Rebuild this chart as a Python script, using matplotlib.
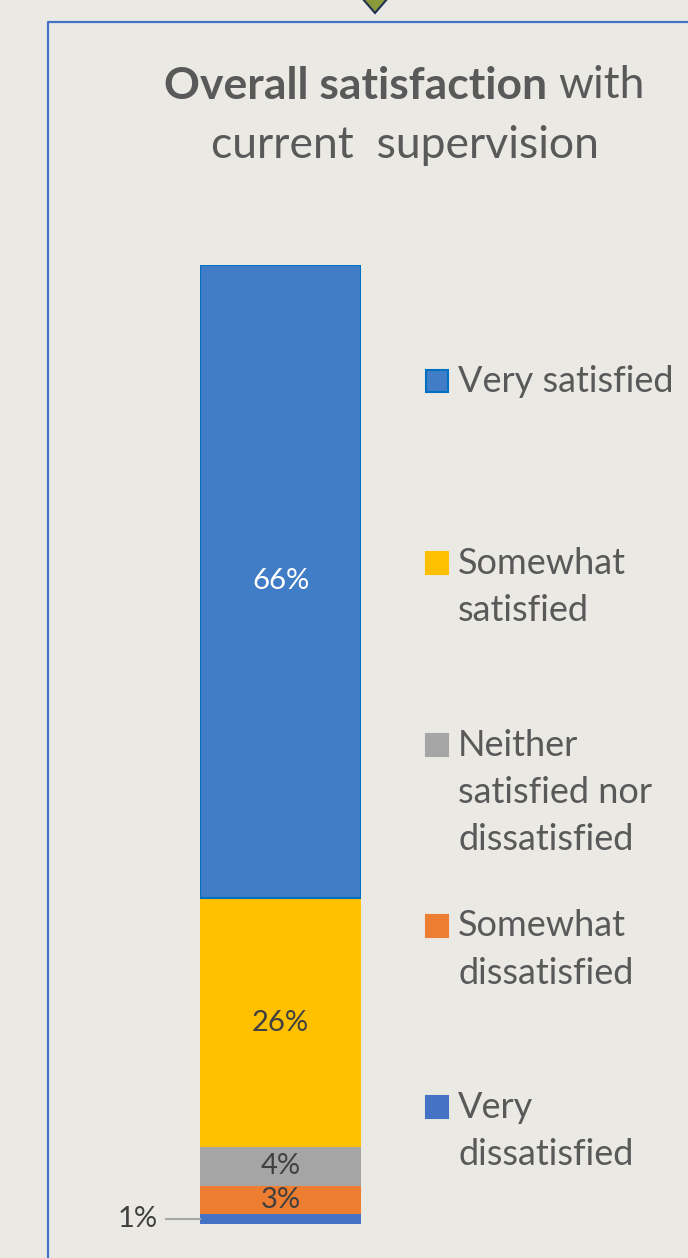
import matplotlib.pyplot as plt
from matplotlib.patches import Rectangle, Polygon
from matplotlib.lines import Line2D

# categories from bottom of stack to top
categories = ["Very dissatisfied", "Somewhat dissatisfied",
              "Neither satisfied nor dissatisfied", "Somewhat satisfied",
              "Very satisfied"]
values = [1, 3, 4, 26, 66]
colors = ["#4472C4", "#ED7D31", "#A5A5A5", "#FFC000", "#417DC6"]
edge_colors = ["none", "none", "none", "none", "#0070C0"]
label_colors = ["#404040", "#404040", "#404040", "#404040", "white"]
legend_lines = {
    "Very satisfied": ["Very satisfied"],
    "Somewhat satisfied": ["Somewhat", "satisfied"],
    "Neither satisfied nor dissatisfied": ["Neither", "satisfied nor", "dissatisfied"],
    "Somewhat dissatisfied": ["Somewhat", "dissatisfied"],
    "Very dissatisfied": ["Very", "dissatisfied"],
}
# legend marker centre (pixel row) for each entry
legend_y = {"Very satisfied": 381, "Somewhat satisfied": 563,
            "Neither satisfied nor dissatisfied": 745,
            "Somewhat dissatisfied": 926, "Very dissatisfied": 1107}

W, H = 688, 1258
bg = "#EBE9E4"
txt = "#595959"
font = "Lato"

fig = plt.figure(figsize=(W / 100, H / 100), dpi=100, facecolor=bg)

def fx(x):
    return x / W

def fy(y):
    return 1 - y / H

# frame and small triangle on top
fig.add_artist(Line2D([fx(48), fx(48), fx(W + 5)], [fy(H + 5), fy(22), fy(22)],
                      color="#4472C4", lw=1.6, transform=fig.transFigure))
fig.add_artist(Polygon([(fx(362), fy(-2)), (fx(388), fy(-2)), (fx(375), fy(13))],
                       closed=True, facecolor="#8A9A3B", edgecolor="#1F3050",
                       lw=1.5, transform=fig.transFigure))

# title: bold part + regular part on line 1
renderer = fig.canvas.get_renderer()
tsize = 32
t_bold = fig.text(0, fy(86), "Overall satisfaction", fontsize=tsize, weight="bold",
                  color=txt, family=font, va="center", ha="left")
t_reg = fig.text(0, fy(86), "with", fontsize=tsize, color=txt, family=font,
                 va="center", ha="left")
w_bold = t_bold.get_window_extent(renderer).width
w_reg = t_reg.get_window_extent(renderer).width
gap = 11
start = 404 - (w_bold + gap + w_reg) / 2
t_bold.set_x(fx(start))
t_reg.set_x(fx(start + w_bold + gap))
fig.text(fx(405), fy(146), "current  supervision", fontsize=tsize, color=txt,
         family=font, va="center", ha="center")

# stacked bar
ax = fig.add_axes([fx(200), fy(1224), fx(161), (1224 - 265) / H])
ax.set_facecolor("none")
bottom = 0
for cat, v, c, ec, lc in zip(categories, values, colors, edge_colors, label_colors):
    ax.bar(0.5, v, width=1, bottom=bottom, color=c, edgecolor=ec,
           linewidth=1.5 if ec != "none" else 0)
    mid = bottom + v / 2
    if v >= 2:
        ax.text(0.5, mid, f"{v}%", ha="center", va="center", fontsize=21,
                color=lc, family=font)
    else:
        ax.plot([-0.21, 0.0], [mid, mid], color="#A6A6A6", lw=1.5, clip_on=False)
        ax.text(-0.26, mid, f"{v}%", ha="right", va="center", fontsize=21,
                color="#404040", family=font, clip_on=False)
    bottom += v
ax.set_xlim(0, 1)
ax.set_ylim(0, 100)
ax.axis("off")

# legend
for cat, c, ec in zip(categories, colors, edge_colors):
    yc = legend_y[cat]
    fig.add_artist(Rectangle((fx(426), fy(yc + 11)), fx(22), 22 / H,
                             facecolor=c, edgecolor=ec if ec != "none" else c,
                             lw=1.5, transform=fig.transFigure))
    for i, line in enumerate(legend_lines[cat]):
        fig.text(fx(458), fy(yc + i * 47.5), line, fontsize=26, color=txt,
                 family=font, va="center", ha="left")

fig.savefig("out.png", dpi=100, facecolor=bg)
